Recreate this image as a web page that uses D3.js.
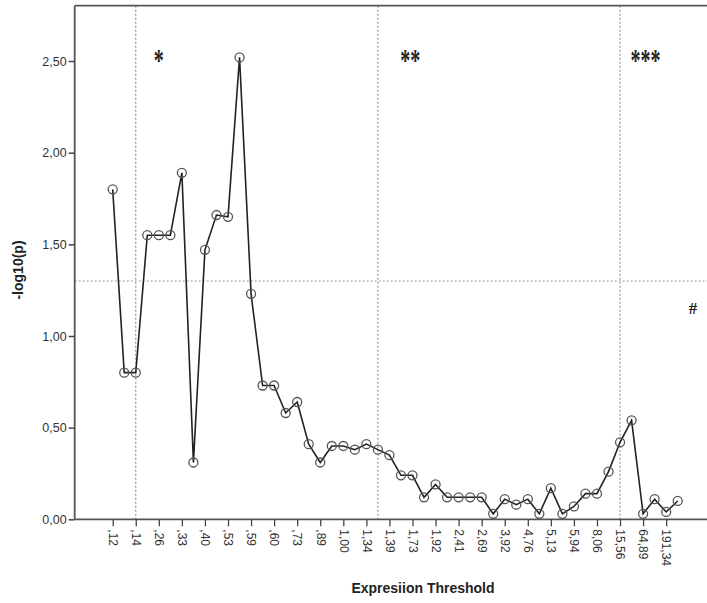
<!DOCTYPE html>
<html>
<head>
<meta charset="utf-8">
<script src="https://cdn.jsdelivr.net/npm/d3@7"></script>
<style>
  body { margin: 0; background: #fff; }
  svg { display: block; font-family: "Liberation Sans", Arial, sans-serif; }
</style>
</head>
<body>
<svg id="chart" width="707" height="603"></svg>
<script>
// expression thresholds (only every other one is labelled on the axis)
var thresholds = [",12", ",13", ",14", ",20", ",26", ",29", ",33", ",36", ",40", ",46",
    ",53", ",56", ",59", ",59", ",60", ",66", ",73", ",81", ",89", ",94",
    "1,00", "1,17", "1,34", "1,36", "1,39", "1,56", "1,73", "1,82", "1,92", "2,16",
    "2,41", "2,55", "2,69", "3,30", "3,92", "4,34", "4,76", "4,94", "5,13", "5,53",
    "5,94", "7,00", "8,06", "11,81", "15,56", "40,22", "64,89", "128,11", "191,34", "250,00"];

// -log10(p) per threshold
var logP = [1.80, 0.80, 0.80, 1.55, 1.55, 1.55, 1.89, 0.31, 1.47, 1.66,
    1.65, 2.52, 1.23, 0.73, 0.73, 0.58, 0.64, 0.41, 0.31, 0.40,
    0.40, 0.38, 0.41, 0.38, 0.35, 0.24, 0.24, 0.12, 0.19, 0.12,
    0.12, 0.12, 0.12, 0.03, 0.11, 0.08, 0.11, 0.03, 0.17, 0.03,
    0.07, 0.14, 0.14, 0.26, 0.42, 0.54, 0.03, 0.11, 0.04, 0.10];

var yTicks = [0, 0.5, 1, 1.5, 2, 2.5];
var sigLevel = 1.30;            // -log10(0.05)
var refLines = [2, 23, 44];     // index of threshold with dashed vertical line
var marks = [
    {label: "*", at: 4},
    {label: "**", at: 25.8},
    {label: "***", at: 46.2}
];

var svg = d3.select("#chart"),
    plotLeft = 74.7,
    plotRight = 707,
    plotTop = 5.7,
    plotBottom = 519.3;

var idx = d3.range(thresholds.length);

var x = d3.scalePoint()
    .domain(idx)
    .range([112.7, 677.7]);

var y = d3.scaleLinear()
    .domain([0, (plotBottom - plotTop) / 183.3])
    .range([plotBottom, plotTop]);

var comma = function (v) { return d3.format(".2f")(v).replace(".", ","); };

// reference lines
svg.append("line")
    .attr("x1", plotLeft).attr("x2", plotRight)
    .attr("y1", y(sigLevel)).attr("y2", y(sigLevel))
    .attr("stroke", "#9a9a9a")
    .attr("stroke-width", 1.2)
    .attr("stroke-dasharray", "2,2");

svg.selectAll(".vref")
    .data(refLines)
    .enter().append("line")
    .attr("class", "vref")
    .attr("x1", function (d) { return x(d); })
    .attr("x2", function (d) { return x(d); })
    .attr("y1", plotTop).attr("y2", plotBottom)
    .attr("stroke", "#9a9a9a")
    .attr("stroke-width", 1.2)
    .attr("stroke-dasharray", "2,2");

// frame top
svg.append("line")
    .attr("x1", plotLeft).attr("x2", plotRight)
    .attr("y1", plotTop).attr("y2", plotTop)
    .attr("stroke", "#555")
    .attr("stroke-width", 1.8);

// axes
var xAxis = svg.append("g")
    .attr("transform", "translate(0," + plotBottom + ")")
    .call(d3.axisBottom(x)
        .tickValues(idx.filter(function (i) { return i % 2 === 0; }))
        .tickFormat(function (i) { return thresholds[i]; })
        .tickSize(7)
        .tickSizeOuter(0));

xAxis.select(".domain")
    .attr("d", "M" + plotLeft + ",0H" + plotRight)
    .attr("stroke", "#555")
    .attr("stroke-width", 1.8);
xAxis.selectAll(".tick line").attr("stroke", "#444").attr("stroke-width", 1.3);
xAxis.selectAll("text")
    .attr("transform", "rotate(90)")
    .attr("x", 10)
    .attr("y", 0)
    .attr("dy", "0.35em")
    .style("text-anchor", "start")
    .style("font-size", "12px")
    .style("font-family", "'Liberation Sans', Arial, sans-serif")
    .attr("fill", "#333");

var yAxis = svg.append("g")
    .attr("transform", "translate(" + plotLeft + ",0)")
    .call(d3.axisLeft(y)
        .tickValues(yTicks)
        .tickFormat(comma)
        .tickSize(6)
        .tickSizeOuter(0));

yAxis.select(".domain")
    .attr("d", "M0," + plotTop + "V" + plotBottom)
    .attr("stroke", "#555")
    .attr("stroke-width", 1.8);
yAxis.selectAll(".tick line").attr("stroke", "#444").attr("stroke-width", 1.5);
yAxis.selectAll("text")
    .attr("x", -8)
    .style("font-size", "12.5px")
    .style("font-family", "'Liberation Sans', Arial, sans-serif")
    .attr("fill", "#333");

// series
var line = d3.line()
    .x(function (d, i) { return x(i); })
    .y(function (d) { return y(d); });

svg.append("path")
    .datum(logP)
    .attr("d", line)
    .attr("fill", "none")
    .attr("stroke", "#222")
    .attr("stroke-width", 1.6);

svg.selectAll(".dot")
    .data(logP)
    .enter().append("circle")
    .attr("class", "dot")
    .attr("cx", function (d, i) { return x(i); })
    .attr("cy", function (d) { return y(d); })
    .attr("r", 4.5)
    .attr("fill", "none")
    .attr("stroke", "#555")
    .attr("stroke-width", 1.3);

// significance marks (tall, narrow asterisks)
svg.selectAll(".mark")
    .data(marks)
    .enter().append("text")
    .attr("class", "mark")
    .attr("transform", function (d) {
        var cx = x(Math.floor(d.at)) + (d.at % 1) * x.step();
        return "translate(" + cx + ",71) scale(1,1.6)";
    })
    .attr("text-anchor", "middle")
    .style("font-family", "'Liberation Serif', 'Times New Roman', serif")
    .style("font-weight", "bold")
    .style("font-size", "20px")
    .attr("fill", "#222")
    .text(function (d) { return d.label; });

svg.append("text")
    .attr("x", 693)
    .attr("y", 314)
    .attr("text-anchor", "middle")
    .style("font-family", "'Liberation Serif', 'Times New Roman', serif")
    .style("font-weight", "bold")
    .style("font-size", "17px")
    .attr("fill", "#222")
    .text("#");

// titles
svg.append("text")
    .attr("x", 423)
    .attr("y", 593)
    .attr("text-anchor", "middle")
    .style("font-weight", "bold")
    .style("font-size", "14px")
    .attr("fill", "#222")
    .text("Expresiion Threshold");

svg.append("text")
    .attr("transform", "translate(23,270) rotate(-90)")
    .attr("text-anchor", "middle")
    .style("font-weight", "bold")
    .style("font-size", "14px")
    .attr("fill", "#222")
    .text("-log10(p)");
</script>
</body>
</html>
